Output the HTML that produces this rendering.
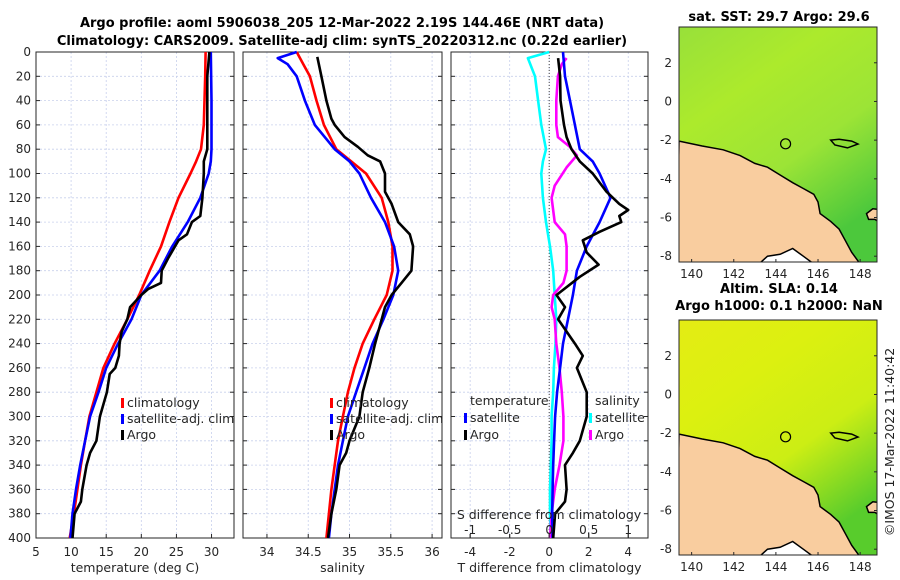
<!DOCTYPE html>
<html><head><meta charset="utf-8"><style>
body{margin:0;background:#fff}
svg{display:block;font-family:"DejaVu Sans","Liberation Sans",sans-serif}
</style></head><body>
<svg id="fig" width="900" height="580" xmlns="http://www.w3.org/2000/svg">
<rect width="900" height="580" fill="#fff"/>
<text x="342" y="27" text-anchor="middle" font-size="13" font-weight="bold" fill="#000">Argo profile: aoml 5906038_205 12-Mar-2022 2.19S 144.46E (NRT data)</text>
<text x="342" y="45" text-anchor="middle" font-size="13" font-weight="bold" fill="#000">Climatology: CARS2009. Satellite-adj clim: synTS_20220312.nc (0.22d earlier)</text>
<text x="779" y="21" text-anchor="middle" font-size="13" font-weight="bold">sat. SST: 29.7 Argo: 29.6</text>
<text x="779" y="293" text-anchor="middle" font-size="13" font-weight="bold">Altim. SLA: 0.14</text>
<text x="779" y="310" text-anchor="middle" font-size="13" font-weight="bold">Argo h1000: 0.1 h2000: NaN</text>
<text transform="translate(894,442) rotate(-90)" text-anchor="middle" font-size="12.5" fill="#222">©IMOS 17-Mar-2022 11:40:42</text>
<g id="plots"></g>
</svg>
<script>
const depthTicks=[0,20,40,60,80,100,120,140,160,180,200,220,240,260,280,300,320,340,360,380,400];
const tClimD=[0,20,40,60,80,90,100,120,140,160,180,200,220,240,260,280,300,320,340,360,380,400];
const tClim=[29.15,29.1,29.0,28.9,28.5,27.8,27.0,25.3,24.0,22.8,21.2,19.7,18.0,16.2,14.6,13.6,12.6,12.0,11.4,10.9,10.4,9.8];
const tSatD=[0,40,80,90,100,120,140,160,180,200,220,240,260,280,300,320,340,360,380,400];
const tSat=[29.9,30.0,30.0,29.9,29.6,28.4,26.6,24.4,22.6,20.0,18.6,16.7,15.0,13.9,12.7,12.0,11.3,10.7,10.2,9.9];
const tArgoD=[0,20,80,90,100,120,135,140,150,155,170,180,190,195,200,210,220,230,240,250,260,265,280,300,320,330,340,360,370,380,400];
const tArgo=[29.7,29.4,29.4,28.9,28.9,28.7,28.4,27.2,26.5,25.3,23.8,22.9,22.8,21.0,20.0,18.4,18.0,17.2,16.9,16.8,16.3,15.5,15.1,14.1,13.6,12.7,12.2,11.6,11.4,10.5,10.2];
const sClimD=[0,10,20,40,60,80,90,100,120,140,160,180,200,220,240,260,280,300,320,340,360,380,400];
const sClim=[34.36,34.44,34.52,34.6,34.69,34.84,35.02,35.2,35.39,35.47,35.52,35.52,35.45,35.3,35.16,35.06,34.98,34.92,34.86,34.82,34.78,34.75,34.72];
const sSatD=[0,5,10,20,40,60,80,90,100,120,140,160,180,200,220,240,260,280,300,320,340,360,380,400];
const sSat=[34.36,34.13,34.25,34.36,34.46,34.58,34.82,35.0,35.12,35.26,35.43,35.54,35.59,35.53,35.41,35.28,35.18,35.08,34.98,34.92,34.86,34.82,34.78,34.75];
const sArgoD=[4,20,40,55,60,70,78,85,90,100,115,125,140,150,160,180,190,200,210,220,230,240,260,280,300,320,330,340,360,380,400];
const sArgo=[34.61,34.66,34.72,34.78,34.82,34.94,35.1,35.22,35.37,35.43,35.43,35.51,35.59,35.73,35.77,35.75,35.63,35.51,35.43,35.39,35.35,35.31,35.24,35.16,35.12,35.0,34.96,34.88,34.84,34.78,34.74];
const dSsatD=[0,5,20,40,60,80,90,100,120,140,160,180,200,220,240,260,280,300,320,340,360,380,400];
const dSsat=[0.0,-0.27,-0.18,-0.14,-0.1,-0.04,-0.08,-0.1,-0.08,-0.04,0.01,0.05,0.07,0.09,0.08,0.06,0.05,0.03,0.03,0.02,0.01,0.01,0.02];
const dSargoD=[5,10,20,40,60,70,78,85,95,110,120,140,150,160,180,190,200,210,220,240,260,280,300,320,340,360,380,400];
const dSargo=[0.22,0.16,0.11,0.09,0.09,0.11,0.26,0.35,0.22,0.07,0.03,0.07,0.2,0.22,0.22,0.18,0.05,0.03,0.07,0.09,0.13,0.16,0.18,0.18,0.13,0.07,0.03,0.01];
const dTsatD=[0,20,40,60,80,90,100,120,140,160,180,200,220,240,260,280,300,320,340,360,380,400];
const dTsat=[0.7,0.8,1.05,1.3,1.55,2.2,2.55,3.1,2.55,1.9,1.4,1.2,0.95,0.7,0.55,0.4,0.3,0.25,0.2,0.17,0.15,0.17];
const dTargoD=[5,20,40,60,70,80,90,100,115,125,130,135,140,148,155,165,175,185,200,210,220,240,250,260,280,300,320,330,340,360,370,380,400];
const dTargo=[0.45,0.55,0.57,0.75,0.88,1.13,1.55,2.2,2.9,3.55,4.0,3.55,3.65,2.55,1.7,1.9,2.5,1.55,0.37,0.8,0.45,1.3,1.7,1.4,1.9,1.9,1.55,1.2,0.8,0.88,0.8,0.3,0.2];
const tTicks=[5,10,15,20,25,30];
const sTicks=[34,34.5,35,35.5,36];
const dtTicks=[-4,-2,0,2,4];
const dsTicks=[-1,-0.5,0,0.5,1];
const lonTicks=[140,142,144,146,148];
const latTicks=[2,0,-2,-4,-6,-8];

const NS="http://www.w3.org/2000/svg";
const root=document.getElementById('plots');
function el(tag,attrs,parent){const e=document.createElementNS(NS,tag);for(const k in attrs)e.setAttribute(k,attrs[k]);(parent||root).appendChild(e);return e;}
function txt(x,y,s,attrs,parent){const e=el('text',Object.assign({x:x,y:y,'font-size':12,fill:'#262626'},attrs),parent);e.textContent=s;return e;}
const Y0=52,Y1=538;
function yD(d){return Y0+(d/400)*(Y1-Y0);}

function panel(name,x0,x1,xmin,xmax,ticks,label,showY){
  const g=el('g',{});
  
  
  const sx=v=>x0+(v-xmin)/(xmax-xmin)*(x1-x0);
  depthTicks.forEach(d=>{const l=el('line',{x1:x0,x2:x1,y1:yD(d),y2:yD(d),stroke:'#c8d0ec','stroke-width':0.8,'stroke-dasharray':'2,2'},g);
    el('line',{x1:x0,x2:x0+4,y1:yD(d),y2:yD(d),stroke:'#262626'},g);el('line',{x1:x1,x2:x1-4,y1:yD(d),y2:yD(d),stroke:'#262626'},g);
    if(showY){const t=txt(x0-5,yD(d)+4,String(d),{'text-anchor':'end'},g);}});
  ticks.forEach(v=>{const l=el('line',{x1:sx(v),x2:sx(v),y1:Y0,y2:Y1,stroke:'#c8d0ec','stroke-width':0.8,'stroke-dasharray':'2,2'},g);
    el('line',{x1:sx(v),x2:sx(v),y1:Y1,y2:Y1-4,stroke:'#262626'},g);
    const t=txt(sx(v),556,String(v),{'text-anchor':'middle'},g);});
  const fr=el('rect',{x:x0,y:Y0,width:x1-x0,height:Y1-Y0,fill:'none',stroke:'#262626','stroke-width':1},g);
  
  const lb=txt((x0+x1)/2,572,label,{'text-anchor':'middle','font-size':12.5},g);
  
  return {g,sx};
}
function line(p,vals,depths,color,nm,sxf){
  const pts=vals.map((v,i)=>(sxf||p.sx)(v).toFixed(1)+','+yD(depths[i]).toFixed(1)).join(' ');
  const l=el('polyline',{points:pts,fill:'none',stroke:color,'stroke-width':2.6,'stroke-linejoin':'round'},p.g);
  
}
function legendItem(g,x,y,color,label,nm){
  el('rect',{x:x,y:y-9,width:3,height:10,fill:color},g);
  const t=txt(x+6,y,label,{'font-size':12.5},g);
  
}

const p1=panel('temperature-panel',36,234,5,33.2,tTicks,'temperature (deg C)',true);
line(p1,tClim,tClimD,'#ff0000','temperature-climatology-line');
line(p1,tSat,tSatD,'#0000ff','temperature-satellite-line');
line(p1,tArgo,tArgoD,'#000000','temperature-argo-line');
legendItem(p1.g,121,407,'#ff0000','climatology','legend-climatology');
legendItem(p1.g,121,423,'#0000ff','satellite-adj. clim','legend-satellite');
legendItem(p1.g,121,439,'#000000','Argo','legend-argo');

const p2=panel('salinity-panel',243,442,33.71,36.12,sTicks,'salinity',false);
line(p2,sClim,sClimD,'#ff0000','salinity-climatology-line');
line(p2,sSat,sSatD,'#0000ff','salinity-satellite-line');
line(p2,sArgo,sArgoD,'#000000','salinity-argo-line');
legendItem(p2.g,330,407,'#ff0000','climatology','legend-climatology-2');
legendItem(p2.g,330,423,'#0000ff','satellite-adj. clim','legend-satellite-2');
legendItem(p2.g,330,439,'#000000','Argo','legend-argo-2');

const p3=panel('difference-panel',451,648,-4.97,5.0,dtTicks,'T difference from climatology',false);
const sxS=v=>p3.sx(v*4);
el('line',{x1:p3.sx(0),x2:p3.sx(0),y1:Y0,y2:Y1,stroke:'#444','stroke-width':1,'stroke-dasharray':'1,2'},p3.g);
line(p3,dSsat,dSsatD,'#00ffff','dS-satellite-line',sxS);
line(p3,dSargo,dSargoD,'#ff00ff','dS-argo-line',sxS);
line(p3,dTsat,dTsatD,'#0000ff','dT-satellite-line');
line(p3,dTargo,dTargoD,'#000000','dT-argo-line');
dsTicks.forEach(v=>{el('line',{x1:sxS(v),x2:sxS(v),y1:Y1,y2:Y1-4,stroke:'#262626'},p3.g);
  const t=txt(sxS(v),534,String(v),{'text-anchor':'middle'},p3.g);});
const st=txt(549,519,'S difference from climatology',{'text-anchor':'middle','font-size':12.5},p3.g);

const lt=txt(470,405,'temperature',{'font-size':12.5},p3.g);
const ls=txt(595,405,'salinity',{'font-size':12.5},p3.g);
legendItem(p3.g,464,422,'#0000ff','satellite','legend-dT-satellite');
legendItem(p3.g,464,439,'#000000','Argo','legend-dT-argo');
legendItem(p3.g,589,422,'#00ffff','satellite','legend-dS-satellite');
legendItem(p3.g,589,439,'#ff00ff','Argo','legend-dS-argo');

const coast=[[139.4,-2.05],[140.5,-2.3],[141.5,-2.5],[142.3,-2.8],[143,-3.2],[143.6,-3.4],[144.2,-3.8],[144.8,-4.2],[145.3,-4.5],[145.8,-4.8],[146,-5.2],[146.1,-5.8],[146.6,-6.2],[147,-6.6],[147.3,-7.2],[147.6,-7.8],[148,-8.4],[139.3,-8.4]];
const nbritain=[[148.3,-5.8],[148.6,-5.55],[149.0,-5.6],[149.0,-6.3],[148.7,-6.1],[148.4,-6.1]];
const southland=[[143.2,-8.4],[143.6,-8.0],[144.2,-7.9],[144.8,-7.6],[145.3,-8.0],[145.8,-8.4]];
const island=[[146.6,-2.0],[147.0,-1.95],[147.6,-2.05],[147.9,-2.2],[147.4,-2.4],[146.8,-2.25]];
function map(name,y0,y1,colors){
  const x0=679,x1=877,lon0=139.4,lon1=148.8,lat0=3.85,lat1=-8.3;
  const g=el('g',{});
  const sx=v=>x0+(v-lon0)/(lon1-lon0)*(x1-x0), sy=v=>y0+(v-lat0)/(lat1-lat0)*(y1-y0);
  const cid=name+'-clip';
  const cp=el('clipPath',{id:cid},g);el('rect',{x:x0,y:y0,width:x1-x0,height:y1-y0},cp);
  const gid=name+'-grad';
  const lg=el('linearGradient',{id:gid,x1:0,y1:0,x2:0.6,y2:1},g);
  colors.forEach((c,i)=>el('stop',{offset:i/(colors.length-1),'stop-color':c},lg));
  const inner=el('g',{'clip-path':'url(#'+cid+')'},g);
  el('rect',{x:x0,y:y0,width:x1-x0,height:y1-y0,fill:'url(#'+gid+')'},inner);
  const poly=(pts,fill,nm)=>{const p=el('polygon',{points:pts.map(q=>sx(q[0]).toFixed(1)+','+sy(q[1]).toFixed(1)).join(' '),fill:fill,stroke:'#000','stroke-width':1.5},inner);};
  poly(coast,'#f9cd9f','land-new-guinea');
  poly(nbritain,'#f9cd9f','land-new-britain');
  poly(southland,'#ffffff','land-south');
  poly(island,'none','island-manus');
  const c=el('circle',{cx:sx(144.46),cy:sy(-2.19),r:5,fill:'none',stroke:'#000','stroke-width':1.2},g);
  
  el('rect',{x:x0,y:y0,width:x1-x0,height:y1-y0,fill:'none',stroke:'#262626'},g);
  lonTicks.forEach(v=>{const t=txt(sx(v),y1+16,String(v),{'text-anchor':'middle'},g);
    el('line',{x1:sx(v),x2:sx(v),y1:y1,y2:y1-3,stroke:'#262626'},g);});
  latTicks.forEach(v=>{const t=txt(x0-7,sy(v)+4,String(v),{'text-anchor':'end'},g);
    el('line',{x1:x1,x2:x1-3,y1:sy(v),y2:sy(v),stroke:'#262626'},g);});
}
map('sst-map',27,262,['#98e03a','#acea2c','#9ce436','#4cc83c']);
map('sla-map',320,555,['#e4ec14','#dcf010','#ccee14','#58cc2c']);
</script>
</body></html>
